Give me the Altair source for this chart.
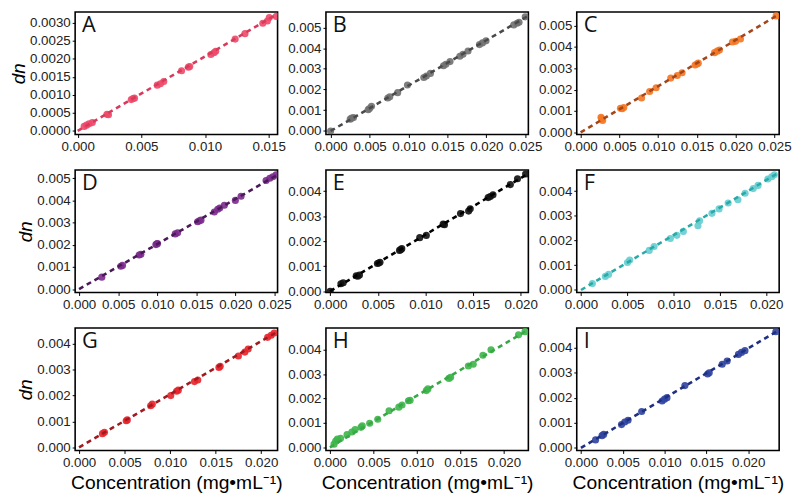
import altair as alt
import pandas as pd

# ---- data ----
letters = ["A", "B", "C", "D", "E", "F", "G", "H", "I"]

conc_A = [0.00051, 0.00070, 0.00089, 0.00115, 0.00230, 0.00242, 0.00421, 0.00435, 0.00446, 0.00625, 0.00650, 0.00676,
          0.00816, 0.00870, 0.00880, 0.01046, 0.01070, 0.01084, 0.01237, 0.01314, 0.01454, 0.01490, 0.01505, 0.01560]
dn_A = [0.000125, 0.00016, 0.00020, 0.00023, 0.00046, 0.00045, 0.00087, 0.00090, 0.00091, 0.00127, 0.00131, 0.00137,
        0.00167, 0.00177, 0.00179, 0.00212, 0.00217, 0.00221, 0.00255, 0.00270, 0.00299, 0.00305, 0.00315, 0.00318]

conc_B = [0.0000, 0.00252, 0.00270, 0.00294, 0.00483, 0.00500, 0.00525, 0.00735, 0.00760, 0.00861, 0.00987, 0.01197,
          0.01230, 0.01282, 0.01450, 0.01480, 0.01534, 0.01660, 0.01700, 0.01765, 0.01912, 0.01950, 0.01996, 0.02353,
          0.02395, 0.02420, 0.02500]
dn_B = [0.0000, 0.00057, 0.00062, 0.00065, 0.00103, 0.00108, 0.00119, 0.00159, 0.00165, 0.00185, 0.00222, 0.00258,
        0.00265, 0.00278, 0.00315, 0.00322, 0.00335, 0.00361, 0.00370, 0.00386, 0.00417, 0.00425, 0.00435, 0.00512,
        0.00520, 0.00525, 0.00551]

conc_C = [0.00263, 0.00270, 0.00284, 0.00514, 0.00535, 0.00556, 0.00786, 0.00890, 0.00974, 0.01162, 0.01246, 0.01308,
          0.01476, 0.01500, 0.01517, 0.01727, 0.01760, 0.01790, 0.01957, 0.01998, 0.02061, 0.02521]
dn_C = [0.00071, 0.00064, 0.00056, 0.00113, 0.00111, 0.00116, 0.00161, 0.00191, 0.00209, 0.00254, 0.00266, 0.00279,
        0.00315, 0.00320, 0.00324, 0.00373, 0.00380, 0.00385, 0.00423, 0.00426, 0.00437, 0.00545]

conc_D = [0.00291, 0.00534, 0.00556, 0.00769, 0.00791, 0.00983, 0.00995, 0.01004, 0.01231, 0.01261, 0.01517, 0.01540,
          0.01560, 0.01731, 0.01774, 0.01800, 0.01859, 0.02000, 0.02073, 0.02393, 0.02440, 0.02479, 0.02521]
dn_D = [0.00054, 0.00103, 0.00107, 0.00154, 0.00157, 0.00201, 0.00204, 0.00206, 0.00249, 0.00254, 0.00304, 0.00308,
        0.00311, 0.00348, 0.00360, 0.00366, 0.00378, 0.00400, 0.00419, 0.00490, 0.00500, 0.00507, 0.00515]

conc_E = [0.0000, 0.00113, 0.00137, 0.00274, 0.00290, 0.00308, 0.00496, 0.00510, 0.00523, 0.00728, 0.00740, 0.00752,
          0.00940, 0.01009, 0.01186, 0.01200, 0.01368, 0.01453, 0.01470, 0.01658, 0.01680, 0.01709, 0.01891, 0.01966,
          0.02051]
dn_E = [0.0000, 0.00030, 0.00034, 0.00062, 0.00060, 0.00065, 0.00111, 0.00113, 0.00116, 0.00163, 0.00166, 0.00170,
        0.00214, 0.00223, 0.00268, 0.00266, 0.00310, 0.00320, 0.00329, 0.00374, 0.00378, 0.00385, 0.00426, 0.00449,
        0.00468]

conc_F = [0.00123, 0.00263, 0.00298, 0.00502, 0.00526, 0.00737, 0.00789, 0.00965, 0.01035, 0.01105, 0.01263, 0.01281,
          0.01414, 0.01491, 0.01589, 0.01695, 0.01772, 0.01860, 0.01912, 0.02018, 0.02060, 0.02088]
dn_F = [0.00026, 0.00055, 0.00063, 0.00111, 0.00121, 0.00160, 0.00176, 0.00208, 0.00221, 0.00237, 0.00260, 0.00280,
        0.00310, 0.00328, 0.00352, 0.00365, 0.00391, 0.00410, 0.00423, 0.00449, 0.00458, 0.00466]

conc_G = [0.00257, 0.00279, 0.00518, 0.00530, 0.00786, 0.00804, 0.01007, 0.01071, 0.01090, 0.01268, 0.01304, 0.01536,
          0.01550, 0.01750, 0.01821, 0.01857, 0.02071, 0.02110, 0.02143]
dn_G = [0.00053, 0.00058, 0.00103, 0.00106, 0.00161, 0.00167, 0.00200, 0.00217, 0.00221, 0.00254, 0.00260, 0.00309,
        0.00313, 0.00353, 0.00368, 0.00380, 0.00425, 0.00433, 0.00442]

conc_H = [0.00048, 0.00067, 0.00086, 0.00123, 0.00197, 0.00253, 0.00290, 0.00357, 0.00372, 0.00457, 0.00550, 0.00680,
          0.00792, 0.00829, 0.00903, 0.00922, 0.01108, 0.01126, 0.01368, 0.01387, 0.01591, 0.01647, 0.01758, 0.01851,
          0.02167, 0.02242]
dn_H = [0.00013, 0.00026, 0.00034, 0.00037, 0.00052, 0.00063, 0.00073, 0.00082, 0.00088, 0.00099, 0.00115, 0.00150,
        0.00165, 0.00174, 0.00191, 0.00193, 0.00233, 0.00240, 0.00283, 0.00288, 0.00334, 0.00341, 0.00378, 0.00401,
        0.00462, 0.00475]

conc_I = [0.00175, 0.00252, 0.00272, 0.00485, 0.00524, 0.00563, 0.00726, 0.00971, 0.01000, 0.01029, 0.01243, 0.01515,
          0.01534, 0.01689, 0.01748, 0.01883, 0.01920, 0.01961, 0.02330]
dn_I = [0.00032, 0.00049, 0.00054, 0.00093, 0.00103, 0.00110, 0.00145, 0.00187, 0.00194, 0.00200, 0.00248, 0.00294,
        0.00299, 0.00333, 0.00346, 0.00372, 0.00380, 0.00387, 0.00462]

# fitted slopes (dn/dc)
slopes = [0.207, 0.219, 0.216, 0.203, 0.226, 0.222, 0.205, 0.212, 0.198]

# axis domains and ticks
x_domains = [[-0.0002, 0.0157], [-0.0006, 0.0254], [-0.0005, 0.0256], [-0.0005, 0.0254], [-0.00044, 0.0208],
             [-0.00046, 0.0214], [-0.00043, 0.0218], [-0.00045, 0.0228], [-0.0005, 0.0237]]
y_domains = [[-0.0001, 0.0033], [-0.00017, 0.00574], [-0.0001, 0.00563], [-0.00015, 0.00537], [-0.00005, 0.00484],
             [-0.0001, 0.00485], [-0.00012, 0.00461], [-0.00013, 0.0049], [-0.0001, 0.00477]]
x_ticks_A = [0.0, 0.005, 0.010, 0.015]
x_ticks_25 = [0.0, 0.005, 0.010, 0.015, 0.020, 0.025]
x_ticks_20 = [0.0, 0.005, 0.010, 0.015, 0.020]
x_ticks = [x_ticks_A, x_ticks_25, x_ticks_25, x_ticks_25, x_ticks_20, x_ticks_20, x_ticks_20, x_ticks_20, x_ticks_20]
y_ticks_A = [0.0, 0.0005, 0.0010, 0.0015, 0.0020, 0.0025, 0.0030]
y_ticks_5 = [0.0, 0.001, 0.002, 0.003, 0.004, 0.005]
y_ticks_4 = [0.0, 0.001, 0.002, 0.003, 0.004]
y_ticks = [y_ticks_A, y_ticks_5, y_ticks_5, y_ticks_5, y_ticks_4, y_ticks_4, y_ticks_4, y_ticks_4, y_ticks_4]

point_colors = ["#EE4868", "#707070", "#F47521", "#7A2A8C", "#111111", "#63CDD0", "#E8222A", "#3DB54A", "#2F42A0"]
line_colors = ["#D83A5C", "#4A4A4A", "#A5461A", "#4A1A58", "#000000", "#2BA9A6", "#A01A1F", "#37A845", "#1F2F82"]

concs = [conc_A, conc_B, conc_C, conc_D, conc_E, conc_F, conc_G, conc_H, conc_I]
dns = [dn_A, dn_B, dn_C, dn_D, dn_E, dn_F, dn_G, dn_H, dn_I]

FONT = "Liberation Sans"
W, H = 205, 124

panels = []
for i, L in enumerate(letters):
    col = i % 3
    row = i // 3
    pts = pd.DataFrame({"c": concs[i], "dn": dns[i]})
    xmax = x_domains[i][1]
    ln = pd.DataFrame({"c": [0.0, xmax], "dn": [0.0, slopes[i] * xmax]})
    yfmt = ".4f" if i == 0 else ".3f"
    x_title = "Concentration (mg•mL⁻¹)" if row == 2 else None
    y_title = "dn" if col == 0 else None
    ax_common = dict(grid=False, domain=False, tickSize=3, tickColor="black", tickWidth=1,
                     labelFontSize=13.5, labelColor="#222222", labelFont=FONT, labelPadding=2,
                     labelOverlap=False, labelFlush=False, titleFont=FONT, titleColor="black",
                     titleFontWeight="normal")
    xax = alt.Axis(values=x_ticks[i], format=".3f", title=x_title, titleFontSize=19.5, titlePadding=5, **ax_common)
    yax = alt.Axis(values=y_ticks[i], format=yfmt, title=y_title, titleFontSize=19, titleFontStyle="italic",
                   titlePadding=1, **ax_common)
    xs = alt.Scale(domain=x_domains[i], nice=False, zero=False)
    ys = alt.Scale(domain=y_domains[i], nice=False, zero=False)
    pts_layer = alt.Chart(pts).mark_circle(size=52, opacity=0.9, color=point_colors[i], clip=True).encode(
        x=alt.X("c:Q", scale=xs, axis=xax),
        y=alt.Y("dn:Q", scale=ys, axis=yax),
    )
    line_layer = alt.Chart(ln).mark_line(color=line_colors[i], strokeWidth=2.6, strokeDash=[5, 4], clip=True).encode(
        x=alt.X("c:Q", scale=xs, axis=xax),
        y=alt.Y("dn:Q", scale=ys, axis=yax),
    )
    lab = alt.Chart(pd.DataFrame({"t": [L]})).mark_text(
        align="left", baseline="top", font="Open Sans", fontSize=22, color="#111111"
    ).encode(text="t:N", x=alt.value(7), y=alt.value(3))
    panels.append(alt.layer(pts_layer, line_layer, lab).properties(width=W, height=H))

chart = alt.concat(*panels, columns=3, spacing=alt.RowColnumber(row=36, column=49), bounds="flush").configure_view(
    stroke="black", strokeWidth=1.6
).properties(padding=0, background="white")

chart.save("out.html", embed_options={"renderer": "svg", "actions": False})
